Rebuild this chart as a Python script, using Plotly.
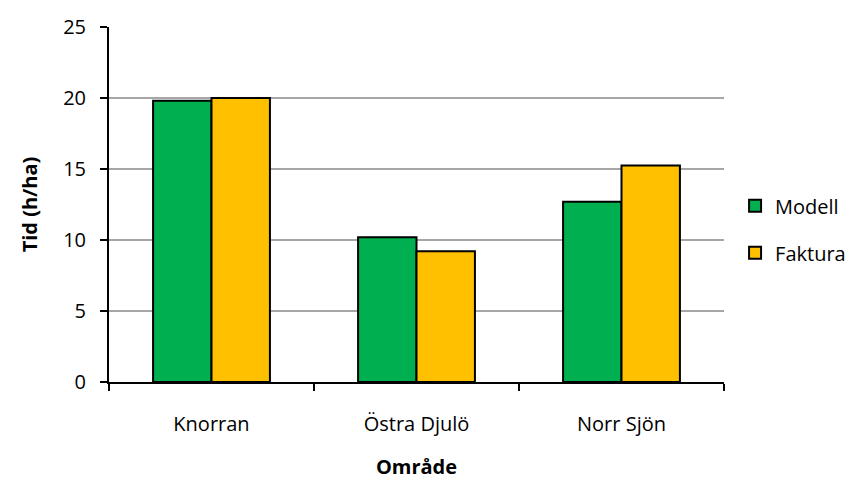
import plotly.graph_objects as go

areas = ["Knorran", "Östra Djulö", "Norr Sjön"]
modell = [19.8, 10.2, 12.7]
faktura = [20.0, 9.2, 15.25]
y_ticks = [0, 5, 10, 15, 20, 25]

FONT = "Open Sans"
SIZE = 20

fig = go.Figure()
fig.add_trace(go.Bar(name="Modell", x=areas, y=modell, legendgroup="m",
                     marker=dict(color="#00B050", line=dict(color="black", width=2))))
fig.add_trace(go.Bar(name="Faktura", x=areas, y=faktura, legendgroup="f",
                     marker=dict(color="#FFC000", line=dict(color="black", width=2))))

fig.update_layout(
    width=853, height=487,
    margin=dict(l=109, r=129, t=27, b=105, autoexpand=False),
    paper_bgcolor="white", plot_bgcolor="white",
    barmode="group", bargap=0.43, bargroupgap=0,
    font=dict(family=FONT, size=SIZE, color="black"),
    legend=dict(x=1.018, y=0.43, xanchor="left", yanchor="middle",
                font=dict(size=SIZE), tracegroupgap=18,
                itemwidth=30),
    xaxis=dict(
        showline=True, linecolor="black", linewidth=2,
        ticks="outside", ticklen=7, tickwidth=2, tickcolor="black",
        tickson="boundaries", ticklabelstandoff=23,
        title=dict(text="<b>Område</b>", font=dict(size=SIZE), standoff=24),
    ),
    yaxis=dict(
        range=[0, 25], tickvals=y_ticks,
        showline=True, linecolor="black", linewidth=2,
        ticks="outside", ticklen=7, tickwidth=2, tickcolor="black",
        ticklabelstandoff=10,
        showgrid=True, gridcolor="#A6A6A6", gridwidth=1.5,
        zeroline=False,
        title=dict(text="<b>Tid (h/ha)</b>", font=dict(size=SIZE), standoff=20),
    ),
)

fig.write_html("out.html")
